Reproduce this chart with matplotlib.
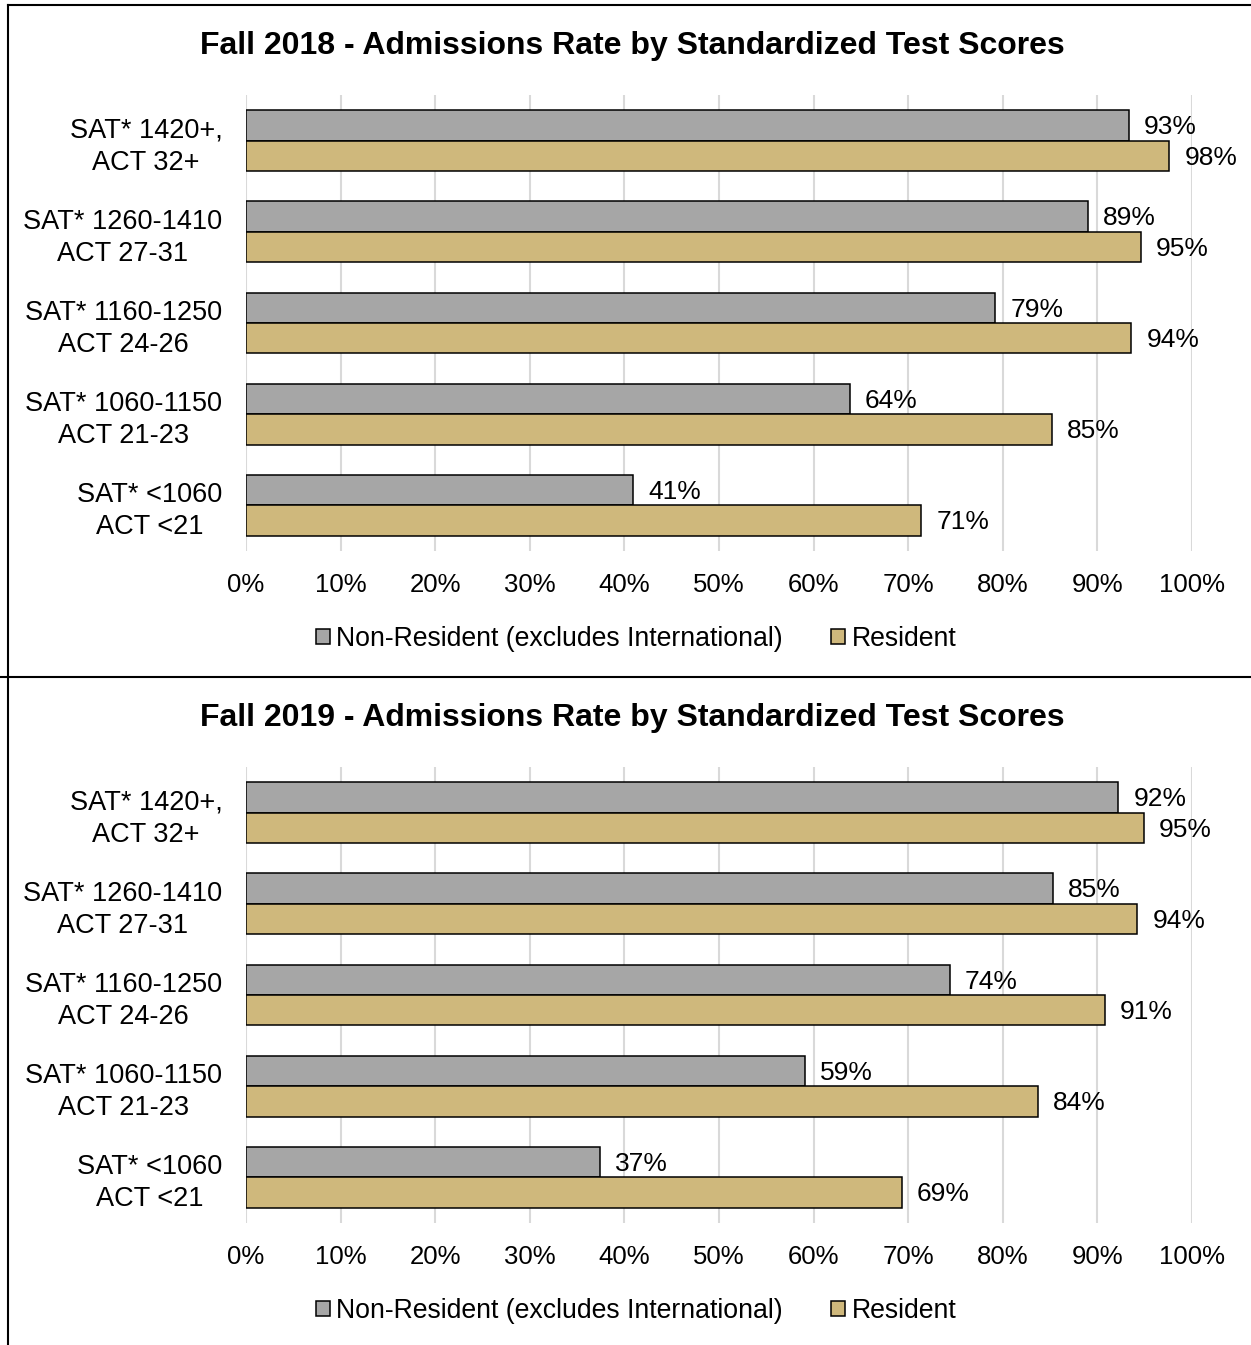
import matplotlib.pyplot as plt
from matplotlib.lines import Line2D
from matplotlib.patches import Patch
from matplotlib.transforms import ScaledTranslation

plt.rcParams['font.family'] = ['Liberation Sans', 'DejaVu Sans']

categories = ["SAT* 1420+,\nACT 32+", "SAT* 1260-1410\nACT 27-31", "SAT* 1160-1250\nACT 24-26",
              "SAT* 1060-1150\nACT 21-23", "SAT* <1060\nACT <21"]
nonres_2018 = [93.3, 89.0, 79.2, 63.8, 40.9]
res_2018 = [97.6, 94.6, 93.6, 85.2, 71.4]
nonres_2019 = [92.2, 85.3, 74.4, 59.1, 37.4]
res_2019 = [94.9, 94.2, 90.8, 83.7, 69.3]
ticks = [0, 10, 20, 30, 40, 50, 60, 70, 80, 90, 100]

GRAY = '#A6A6A6'
GOLD = '#CFB87C'
W, H = 1251, 1345

fig = plt.figure(figsize=(W / 100, H / 100), dpi=100)


def panel(top_px, title, nonres, res):
    ax = fig.add_axes([246 / W, 1 - (top_px + 456) / H, 946 / W, 456 / H])
    y = list(range(len(categories)))
    bh = 0.333
    ax.barh([v - bh / 2 for v in y], nonres, height=bh, color=GRAY, edgecolor='black', linewidth=1.1, zorder=3)
    ax.barh([v + bh / 2 for v in y], res, height=bh, color=GOLD, edgecolor='black', linewidth=1.1, zorder=3)
    for i in y:
        ax.text(nonres[i] + 1.6, i - bh / 2 + 0.02, f"{round(nonres[i])}%", va='center', ha='left', fontsize=19)
        ax.text(res[i] + 1.6, i + bh / 2 + 0.02, f"{round(res[i])}%", va='center', ha='left', fontsize=19)
    ax.set_xlim(0, 100)
    ax.set_ylim(len(categories) - 0.5, -0.5)
    ax.set_xticks(ticks)
    ax.set_xticklabels([f"{t}%" for t in ticks], fontsize=18.5)
    ax.set_yticks(y)
    ax.set_yticklabels(categories, fontsize=19.5, multialignment='center', linespacing=1.3)
    shift = ScaledTranslation(0, 0.035, fig.dpi_scale_trans)
    for lab in ax.get_yticklabels():
        lab.set_transform(lab.get_transform() + shift)
    ax.tick_params(axis='both', length=0)
    ax.tick_params(axis='x', pad=16)
    ax.tick_params(axis='y', pad=17)
    ax.grid(axis='x', color='#D9D9D9', linewidth=1.5, zorder=0)
    for s in ax.spines.values():
        s.set_visible(False)
    fig.text(632 / W, 1 - (top_px - 49) / H, title, ha='center', va='center', fontsize=23, fontweight='bold')
    handles = [Patch(facecolor=GRAY, edgecolor='black', linewidth=1.1),
               Patch(facecolor=GOLD, edgecolor='black', linewidth=1.1)]
    fig.legend(handles, ['Non-Resident (excludes International)', 'Resident'], loc='center',
               bbox_to_anchor=(636 / W, 1 - (top_px + 544) / H), ncol=2, frameon=False, fontsize=19.2,
               handlelength=0.52, handleheight=0.52, handletextpad=0.25, columnspacing=1.8)


panel(95, 'Fall 2018 - Admissions Rate by Standardized Test Scores', nonres_2018, res_2018)
panel(767, 'Fall 2019 - Admissions Rate by Standardized Test Scores', nonres_2019, res_2019)

# panel borders
fig.add_artist(Line2D([8 / W, 1], [1 - 5 / H, 1 - 5 / H], color='black', linewidth=1.5))
fig.add_artist(Line2D([8 / W, 8 / W], [0, 1 - 5 / H], color='black', linewidth=1.5))
fig.add_artist(Line2D([0, 1], [1 - 677 / H, 1 - 677 / H], color='black', linewidth=1.5))

fig.savefig('out.png', dpi=100)
